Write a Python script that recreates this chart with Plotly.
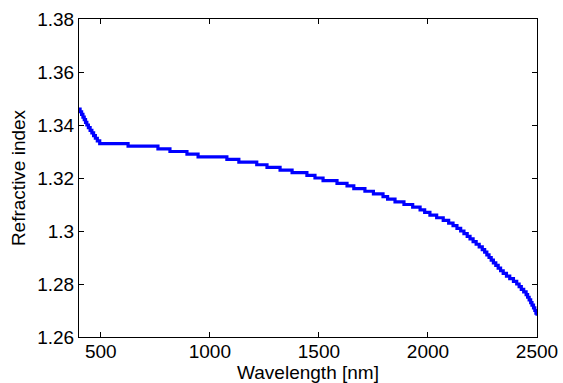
import plotly.graph_objects as go

# Step change points (wavelength in nm, refractive index)
wavelength = [400, 405, 412, 418, 424, 430, 436, 443, 451, 459, 467, 475, 484, 495,
              625, 762, 817, 895, 946, 1078, 1133, 1215, 1262, 1322, 1377, 1445,
              1482, 1519, 1583, 1629, 1660, 1711, 1750, 1794, 1815, 1849, 1890,
              1930, 1964, 1985, 2009, 2040, 2070, 2095, 2115, 2133, 2150, 2165,
              2180, 2193, 2207, 2221, 2235, 2249, 2260, 2270, 2280, 2290, 2300,
              2311, 2322, 2333, 2345, 2360, 2375, 2392, 2407, 2418, 2428, 2439,
              2450, 2457, 2464, 2471, 2477, 2484, 2490, 2495, 2500]
refr_index = [1.346, 1.345, 1.344, 1.343, 1.342, 1.341, 1.340, 1.339, 1.338, 1.337,
              1.336, 1.335, 1.334, 1.333, 1.332, 1.331, 1.330, 1.329, 1.328, 1.327,
              1.326, 1.325, 1.324, 1.323, 1.322, 1.321, 1.320, 1.319, 1.318, 1.317,
              1.316, 1.315, 1.314, 1.313, 1.312, 1.311, 1.310, 1.309, 1.308, 1.307,
              1.306, 1.305, 1.304, 1.303, 1.302, 1.301, 1.300, 1.299, 1.298, 1.297,
              1.296, 1.295, 1.294, 1.293, 1.292, 1.291, 1.290, 1.289, 1.288, 1.287,
              1.286, 1.285, 1.284, 1.283, 1.282, 1.281, 1.280, 1.279, 1.278, 1.277,
              1.276, 1.275, 1.274, 1.273, 1.272, 1.271, 1.270, 1.269, 1.268]

x_ticks = [500, 1000, 1500, 2000, 2500]
y_ticks = [1.26, 1.28, 1.30, 1.32, 1.34, 1.36, 1.38]
y_tick_labels = ["1.26", "1.28", "1.3", "1.32", "1.34", "1.36", "1.38"]

fig = go.Figure()
fig.add_trace(go.Scatter(
    x=wavelength, y=refr_index, mode="lines",
    line=dict(color="#0000FF", width=3.2, shape="hv"),
    showlegend=False, hoverinfo="skip",
))

font_family = "Liberation Sans, Arial, Helvetica, sans-serif"
axis_common = dict(
    showgrid=False, zeroline=False, showline=True, linecolor="black", linewidth=1,
    mirror="ticks", ticks="inside", ticklen=5, tickcolor="black", tickwidth=1,
    tickfont=dict(family=font_family, size=19, color="black"),
)

fig.update_layout(
    width=563, height=383,
    margin=dict(l=79, r=26, t=19, b=46),
    paper_bgcolor="white", plot_bgcolor="white",
    font=dict(family=font_family, color="black"),
    xaxis=dict(range=[400, 2500], tickvals=x_ticks, automargin=False,
               ticklabelstandoff=-3,
               title=dict(text="Wavelength [nm]", font=dict(size=19), standoff=2),
               **axis_common),
    yaxis=dict(range=[1.26, 1.38], tickvals=y_ticks, ticktext=y_tick_labels,
               automargin=False,
               title=dict(text="Refractive index", font=dict(size=19), standoff=6),
               **axis_common),
)

fig.write_html("out.html")
